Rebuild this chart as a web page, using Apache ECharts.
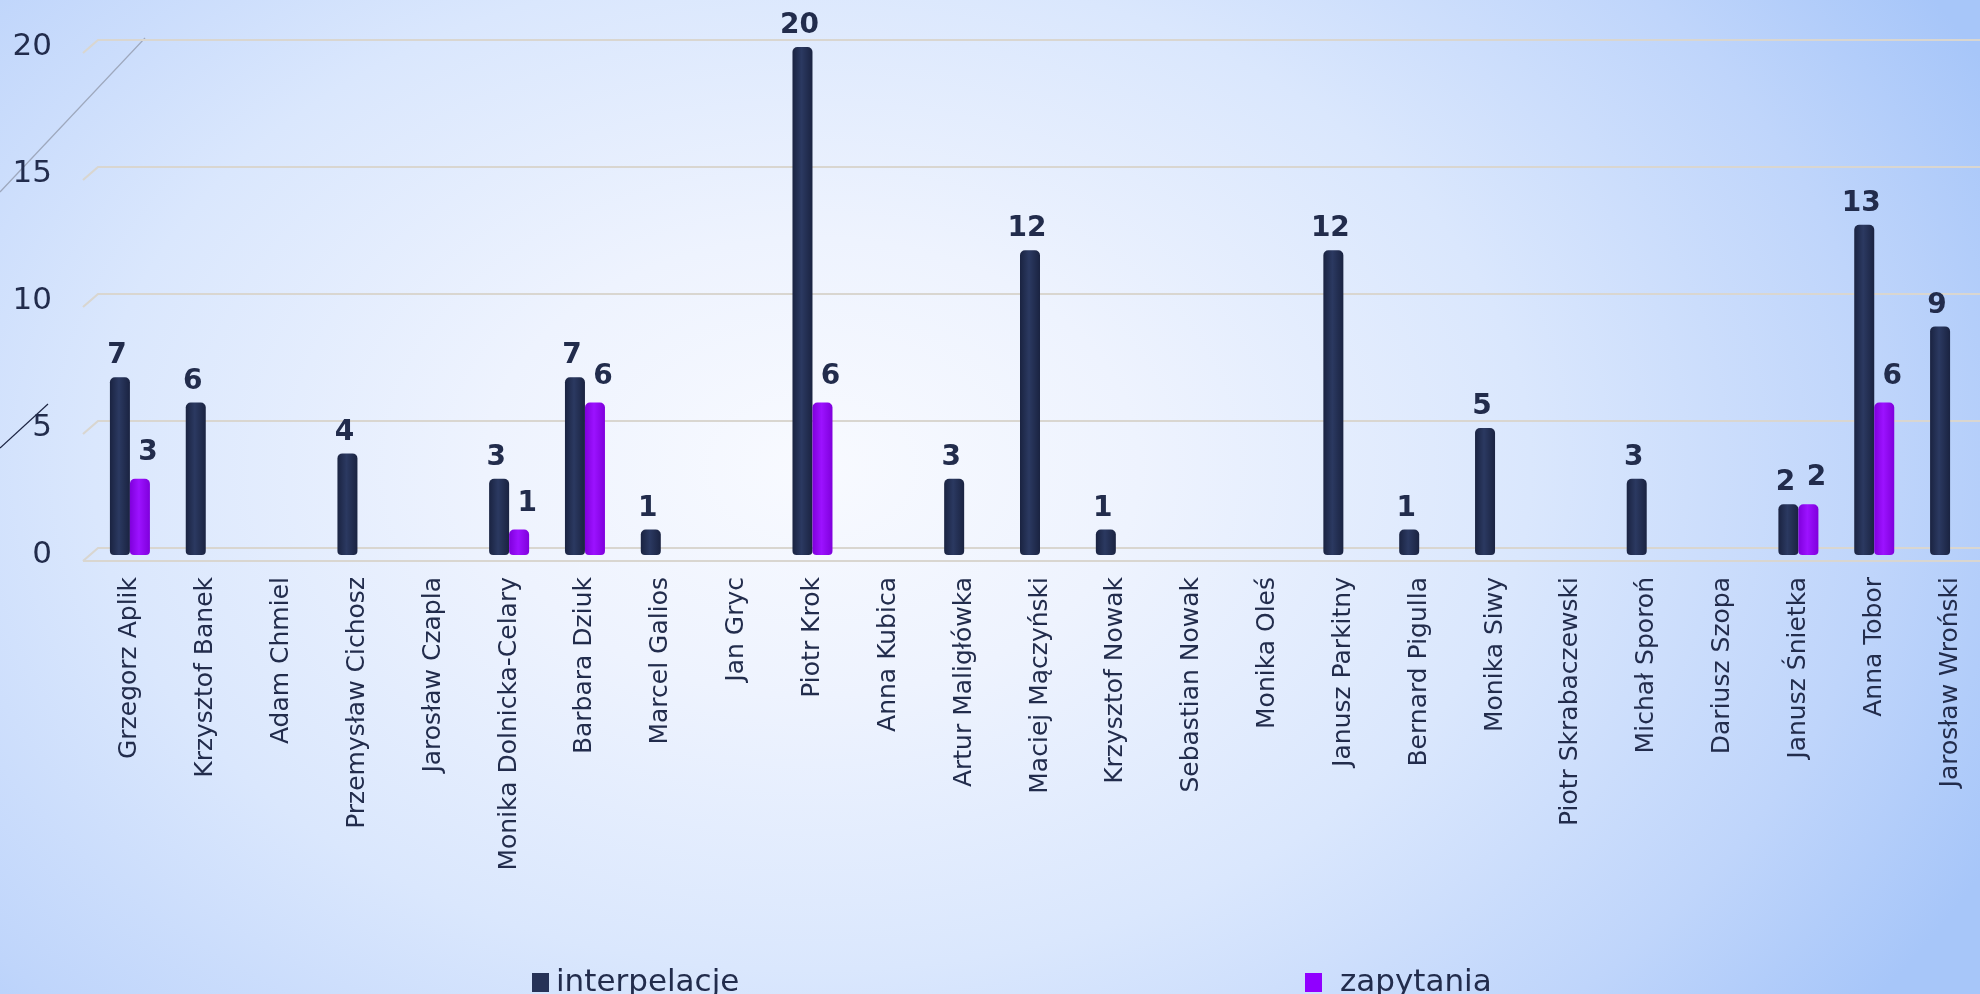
<!DOCTYPE html>
<html><head><meta charset="utf-8">
<script src="https://cdn.jsdelivr.net/npm/echarts@6/dist/echarts.min.js"></script>
<style>
html,body{margin:0;padding:0;width:1980px;height:994px;overflow:hidden;}
body{background:radial-gradient(ellipse 66% 92% at 41% 47%, #f8faff 0%, #eef3fe 25%, #dae7fd 55%, #bfd5fb 82%, #a7c6f9 100%);}
#c{width:1996px;height:994px;}
</style></head><body><div id="c"></div>
<script>
const categories = ['Grzegorz Aplik','Krzysztof Banek','Adam Chmiel','Przemysław Cichosz','Jarosław Czapla','Monika Dolnicka-Celary','Barbara Dziuk','Marcel Galios','Jan Gryc','Piotr Krok','Anna Kubica','Artur Maligłówka','Maciej Mączyński','Krzysztof Nowak','Sebastian Nowak','Monika Oleś','Janusz Parkitny','Bernard Pigulla','Monika Siwy','Piotr Skrabaczewski','Michał Sporoń','Dariusz Szopa','Janusz Śnietka','Anna Tobor','Jarosław Wroński'];
const interpelacje = [7,6,0,4,0,3,7,1,0,20,0,3,12,1,0,0,12,1,5,0,3,0,2,13,9];
const zapytania = [3,0,0,0,0,1,6,0,0,6,0,0,0,0,0,0,0,0,0,0,0,0,2,6,0];
const yTicks = [0,5,10,15,20];
const seriesNames = ['interpelacje','zapytania'];

const FONT = 'DejaVu Sans';
const TXT = '#222c4c';
const chart = echarts.init(document.getElementById('c'), null, {renderer:'canvas'});

const darkGrad = new echarts.graphic.LinearGradient(0,0,1,0,[
  {offset:0,color:'#1a2341'},{offset:0.45,color:'#2b3961'},{offset:1,color:'#1a2341'}]);
const purpGrad = new echarts.graphic.LinearGradient(0,0,1,0,[
  {offset:0,color:'#7f00dc'},{offset:0.45,color:'#9c12ff'},{offset:1,color:'#7f00dc'}]);

const lblFmt = p => (p.value ? String(p.value) : '');

chart.setOption({
  backgroundColor: 'transparent',
  animation: false,
  grid: {left: 92, right: 8, top: 47, bottom: 439, containLabel: false},
  graphic: [
    {type:'line', shape:{x1:0,y1:192,x2:145,y2:38}, style:{stroke:'#9ea8bd', lineWidth:1.2}, silent:true},
    {type:'line', shape:{x1:0,y1:448,x2:48,y2:404}, style:{stroke:'#1c2442', lineWidth:1.2}, silent:true}
  ],
  legend: [
    {data:[seriesNames[0]], left: 527, top: 962, icon:'rect', itemWidth:17, itemHeight:19,
     itemStyle:{color:'#263257', borderWidth:0},
     textStyle:{fontFamily:FONT, fontSize:31, color:TXT, lineHeight:30, padding:[0,0,0,2]}},
    {data:[seriesNames[1]], left: 1300, top: 962, icon:'rect', itemWidth:17, itemHeight:19,
     itemStyle:{color:'#9000ff', borderWidth:0},
     textStyle:{fontFamily:FONT, fontSize:31, color:TXT, lineHeight:30, padding:[0,0,0,13]}}
  ],
  xAxis: {
    type:'category', data: categories,
    axisLine:{show:false}, axisTick:{show:false},
    axisLabel:{rotate:90, interval:0, margin:22, fontFamily:FONT, fontSize:25, color:TXT}
  },
  yAxis: {
    type:'value', min:0, max:20, interval:5,
    axisLine:{show:false}, axisTick:{show:false}, splitLine:{show:false},
    axisLabel:{margin:40, fontFamily:FONT, fontSize:31, color:TXT, padding:[14,0,0,0]}
  },
  series: [
    {
      type:'custom', name:'grid', silent:true, z:1, clip:false,
      data: yTicks.map(v => [0, v]),
      renderItem: function(params, api){
        const cs = params.coordSys;
        const y = api.coord([0, api.value(1)])[1];
        const xl = cs.x - 9, xb = cs.x + 6, xr = cs.x + cs.width + 20;
        const st = {stroke:'#d9d6d0', lineWidth:2.2, fill:null};
        const children = [
          {type:'polyline', shape:{points:[[xl, y+6],[xb, y-7],[xr, y-7]]}, style:st}
        ];
        if (api.value(1) === 0) {
          children.push({type:'line', shape:{x1:xl, y1:y+6, x2:xr, y2:y+6}, style:st});
        }
        return {type:'group', children};
      }
    },
    {
      type:'bar', name: seriesNames[0], data: interpelacje, barWidth:20, barGap:'0%', z:3,
      itemStyle:{color: darkGrad, borderRadius:[5,5,4,4]},
      label:{show:true, position:'top', distance:7, offset:[-3,0], formatter: lblFmt,
             fontFamily:FONT, fontSize:28, fontWeight:'bold', color:TXT}
    },
    {
      type:'bar', name: seriesNames[1], data: zapytania, barWidth:20, barGap:'0%', z:3,
      itemStyle:{color: purpGrad, borderRadius:[5,5,4,4]},
      label:{show:true, position:'top', distance:12, offset:[8,0], formatter: lblFmt,
             fontFamily:FONT, fontSize:28, fontWeight:'bold', color:TXT}
    }
  ]
});
</script></body></html>
